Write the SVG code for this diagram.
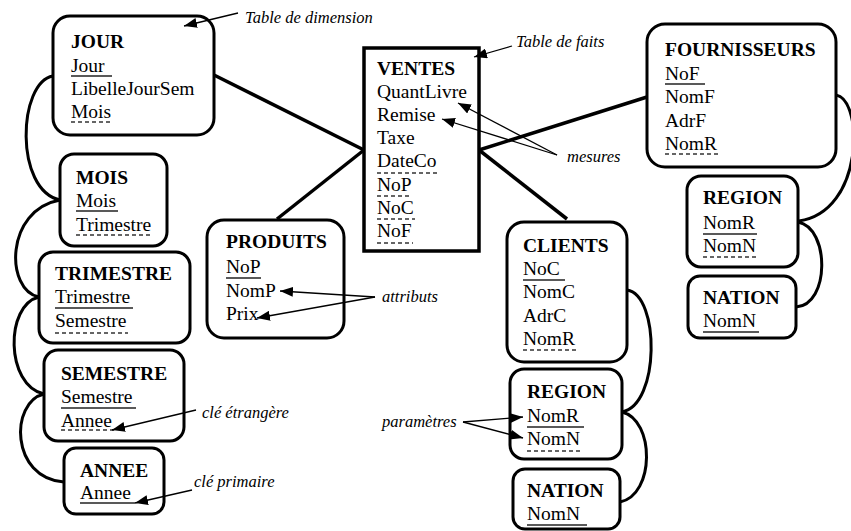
<svg xmlns="http://www.w3.org/2000/svg" width="851" height="531" viewBox="0 0 851 531">
<defs>
<style>
text{font-family:"Liberation Serif","Times New Roman",serif;font-size:19.5px;fill:#000}
.t{font-weight:bold}
.i{font-style:italic;font-size:16.5px}
.box{fill:#fff;stroke:#000;stroke-width:3}
.pk{stroke:#222;stroke-width:1.4}
.fk{stroke:#333;stroke-width:1.3;stroke-dasharray:4,3}
.link{fill:none;stroke:#000;stroke-width:3.5}
.curve{fill:none;stroke:#000;stroke-width:3}
.ann{fill:none;stroke:#000;stroke-width:1.3;marker-end:url(#ah)}
.annp{fill:none;stroke:#000;stroke-width:1.3}
</style>
<marker id="ah" markerUnits="userSpaceOnUse" markerWidth="14" markerHeight="10" refX="13" refY="5" orient="auto">
<path d="M0,0 L13,5 L0,10 Z" fill="#000"/>
</marker>
</defs>

<g id="connectors">
<path class="link" d="M214,75 L364,150"/>
<path class="link" d="M277,219 L364,150"/>
<path class="link" d="M479,150 L647,97"/>
<path class="link" d="M479,150 L567,219"/>
<path class="curve" d="M53,76 C18,82 14,190 60,200"/>
<path class="curve" d="M60,200 C5,210 5,290 39,297"/>
<path class="curve" d="M39,297 C5,305 5,385 44,394"/>
<path class="curve" d="M44,394 C10,402 10,478 64,482"/>
<path class="curve" d="M836,95 C864,100 864,212 799,221"/>
<path class="curve" d="M798,222 C830,228 830,305 796,307"/>
<path class="curve" d="M627,290 C660,295 660,405 622,412"/>
<path class="curve" d="M622,412 C655,420 655,495 620,502"/>
</g>

<g id="JOUR">
<rect class="box" x="53" y="16" width="161" height="119" rx="17"/>
<text class="t" x="71" y="48">JOUR</text>
<text x="71" y="72">Jour</text>
<line class="pk" x1="71" y1="76" x2="112" y2="76"/>
<text x="71" y="95">LibelleJourSem</text>
<text x="71" y="118">Mois</text>
<line class="fk" x1="71" y1="122" x2="113" y2="122"/>
</g>

<g id="MOIS">
<rect class="box" x="60" y="154" width="107" height="92" rx="14"/>
<text class="t" x="76" y="184">MOIS</text>
<text x="76" y="207">Mois</text>
<line class="pk" x1="76" y1="211" x2="118" y2="211"/>
<text x="76" y="231">Trimestre</text>
<line class="fk" x1="76" y1="235" x2="153" y2="235"/>
</g>

<g id="TRIMESTRE">
<rect class="box" x="39" y="252" width="151" height="91" rx="14"/>
<text class="t" x="55" y="280">TRIMESTRE</text>
<text x="55" y="303">Trimestre</text>
<line class="pk" x1="55" y1="308" x2="133" y2="308"/>
<text x="55" y="327">Semestre</text>
<line class="fk" x1="55" y1="333" x2="128" y2="333"/>
</g>

<g id="SEMESTRE">
<rect class="box" x="44" y="350" width="140" height="91" rx="14"/>
<text class="t" x="61" y="380">SEMESTRE</text>
<text x="61" y="403">Semestre</text>
<line class="pk" x1="61" y1="408" x2="136" y2="408"/>
<text x="61" y="427">Annee</text>
<line class="fk" x1="61" y1="430" x2="115" y2="430"/>
</g>

<g id="ANNEE">
<rect class="box" x="64" y="448" width="100" height="66" rx="12"/>
<text class="t" x="80" y="477">ANNEE</text>
<text x="80" y="499">Annee</text>
<line class="pk" x1="80" y1="503" x2="135" y2="503"/>
</g>

<g id="VENTES">
<rect class="box" x="364" y="48" width="115" height="203" rx="0" style="stroke-width:3.5"/>
<text class="t" x="377" y="75">VENTES</text>
<text x="377" y="98">QuantLivre</text>
<text x="377" y="121">Remise</text>
<text x="377" y="144">Taxe</text>
<text x="377" y="167">DateCo</text>
<line class="fk" x1="377" y1="173" x2="439" y2="173"/>
<text x="377" y="191">NoP</text>
<line class="fk" x1="377" y1="196" x2="410" y2="196"/>
<text x="377" y="214">NoC</text>
<line class="fk" x1="377" y1="219" x2="415" y2="219"/>
<text x="377" y="237">NoF</text>
<line class="fk" x1="377" y1="243" x2="413" y2="243"/>
</g>

<g id="PRODUITS">
<rect class="box" x="207" y="220" width="137" height="118" rx="17"/>
<text class="t" x="226" y="248">PRODUITS</text>
<text x="226" y="273">NoP</text>
<line class="pk" x1="226" y1="278" x2="261" y2="278"/>
<text x="226" y="297">NomP</text>
<text x="226" y="320">Prix</text>
</g>

<g id="CLIENTS">
<rect class="box" x="507" y="222" width="120" height="140" rx="17"/>
<text class="t" x="523" y="252">CLIENTS</text>
<text x="523" y="275">NoC</text>
<line class="pk" x1="523" y1="280" x2="565" y2="280"/>
<text x="523" y="298">NomC</text>
<text x="523" y="322">AdrC</text>
<text x="523" y="345">NomR</text>
<line class="fk" x1="523" y1="350" x2="578" y2="350"/>
</g>

<g id="REGION_C">
<rect class="box" x="510" y="369" width="112" height="90" rx="14"/>
<text class="t" x="527" y="398">REGION</text>
<text x="527" y="422">NomR</text>
<line class="pk" x1="527" y1="427" x2="584" y2="427"/>
<text x="527" y="445">NomN</text>
<line class="fk" x1="527" y1="451" x2="583" y2="451"/>
</g>

<g id="NATION_C">
<rect class="box" x="513" y="469" width="107" height="60" rx="12"/>
<text class="t" x="527" y="497">NATION</text>
<text x="527" y="520">NomN</text>
<line class="pk" x1="527" y1="525" x2="587" y2="525"/>
</g>

<g id="FOURNISSEURS">
<rect class="box" x="647" y="24" width="189" height="143" rx="18"/>
<text class="t" x="665" y="56">FOURNISSEURS</text>
<text x="665" y="80">NoF</text>
<line class="pk" x1="665" y1="84" x2="705" y2="84"/>
<text x="665" y="103">NomF</text>
<text x="665" y="127">AdrF</text>
<text x="665" y="150">NomR</text>
<line class="fk" x1="665" y1="154" x2="721" y2="154"/>
</g>

<g id="REGION_F">
<rect class="box" x="687" y="176" width="111" height="91" rx="14"/>
<text class="t" x="703" y="204">REGION</text>
<text x="703" y="229">NomR</text>
<line class="pk" x1="703" y1="234" x2="757" y2="234"/>
<text x="703" y="252">NomN</text>
<line class="fk" x1="703" y1="257" x2="758" y2="257"/>
</g>

<g id="NATION_F">
<rect class="box" x="688" y="276" width="108" height="62" rx="12"/>
<text class="t" x="703" y="304">NATION</text>
<text x="703" y="327">NomN</text>
<line class="pk" x1="703" y1="332" x2="759" y2="332"/>
</g>

<g id="annotations">
<text class="i" x="245" y="23">Table de dimension</text>
<path class="ann" d="M238,13 L184,26"/>
<text class="i" x="516" y="47">Table de faits</text>
<path class="ann" d="M512,46 L474,57"/>
<text class="i" x="567" y="162">mesures</text>
<path class="ann" d="M557,155 L458,103"/>
<path class="ann" d="M557,155 L442,119"/>
<text class="i" x="382" y="302">attributs</text>
<path class="ann" d="M375,297 L280,291"/>
<path class="ann" d="M375,297 L257,318"/>
<text class="i" x="382" y="427">paramètres</text>
<path class="ann" d="M463,422 L523,417"/>
<path class="ann" d="M463,422 L523,438"/>
<text class="i" x="202" y="418">clé étrangère</text>
<path class="ann" d="M196,410 L112,430"/>
<text class="i" x="194" y="487">clé primaire</text>
<path class="ann" d="M192,490 L135,503"/>
</g>
</svg>
